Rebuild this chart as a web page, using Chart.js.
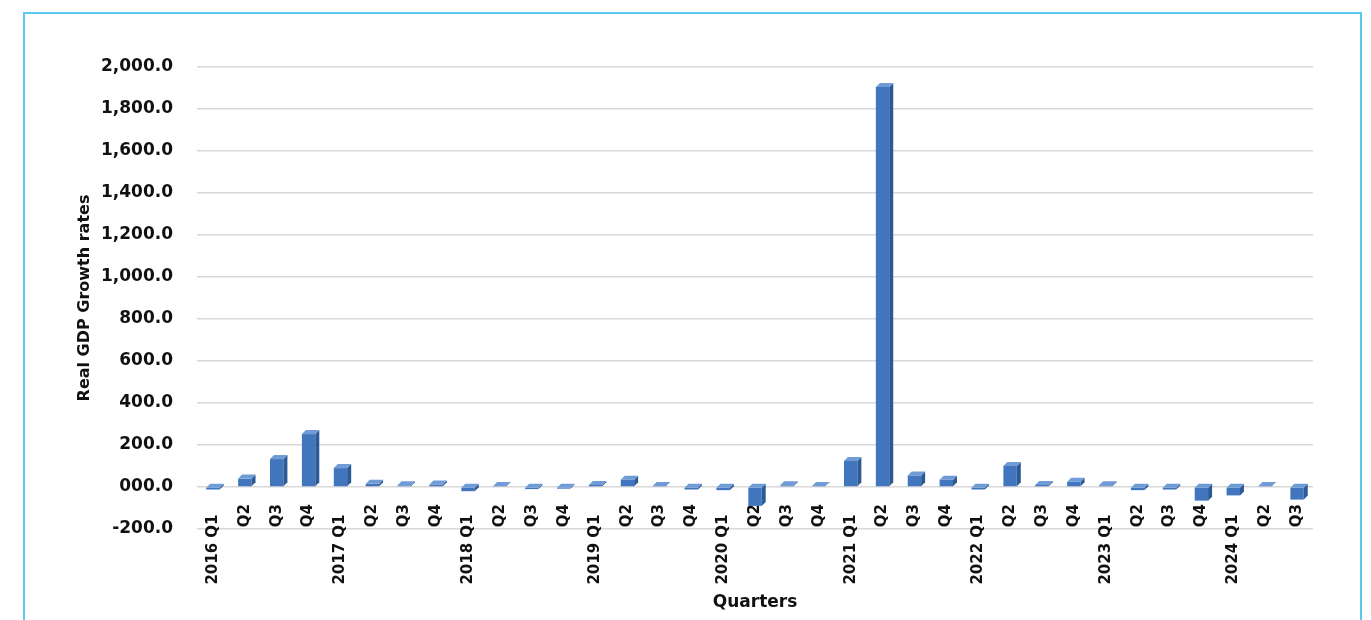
<!DOCTYPE html>
<html>
<head>
<meta charset="utf-8">
<script src="https://cdn.jsdelivr.net/npm/chart.js@4/dist/chart.umd.min.js"></script>
<style>
  html, body { margin: 0; padding: 0; background: #ffffff; }
  #wrap { position: relative; width: 1371px; height: 620px; overflow: hidden; }
  #frame { position: absolute; left: 23px; top: 12px; width: 1339px; height: 640px;
           border: 2px solid #5cc8ef; box-sizing: border-box; }
  canvas { position: absolute; left: 0; top: 0; }
</style>
</head>
<body>
<div id="wrap">
  <div id="frame"></div>
  <canvas id="chart" width="1371" height="620"></canvas>
</div>
<script>
// Quarterly real GDP growth rates, 2016 Q1 – 2024 Q3
const years = ['2016', '2017', '2018', '2019', '2020', '2021', '2022', '2023', '2024'];
const quarters = ['Q1', 'Q2', 'Q3', 'Q4'];

const growth2016 = [-12, 40, 133, 252];
const growth2017 = [90, 15, 8, 12];
const growth2018 = [-20, 5, -10, -8];
const growth2019 = [10, 35, 5, -12];
const growth2020 = [-15, -90, 8, 5];
const growth2021 = [124, 1905, 55, 35];
const growth2022 = [-12, 100, 10, 25];
const growth2023 = [8, -15, -12, -65];
const growth2024 = [-40, 5, -60];

const yTickValues = [-200, 0, 200, 400, 600, 800, 1000, 1200, 1400, 1600, 1800, 2000];
const yTickLabels = ['-200.0', '000.0', '200.0', '400.0', '600.0', '800.0',
                     '1,000.0', '1,200.0', '1,400.0', '1,600.0', '1,800.0', '2,000.0'];

const yearly = [growth2016, growth2017, growth2018, growth2019, growth2020,
                growth2021, growth2022, growth2023, growth2024];

// Category labels: first quarter of each year carries the year
const labels = [];
const values = [];
yearly.forEach((arr, yi) => {
  arr.forEach((v, qi) => {
    labels.push(qi === 0 ? years[yi] + ' ' + quarters[qi] + '  ' : quarters[qi]);
    values.push(v);
  });
});

const FONT = '"DejaVu Sans", sans-serif';

// Lets the category labels start above the axis box (they sit on the floor edge)
const unclipLabels = {
  id: 'unclipLabels',
  afterLayout(chart) {
    chart.scales.x._computeLabelArea = () => undefined;
  }
};

// Adds a shaded side and top face to each bar for a raised look
const bar3d = {
  id: 'bar3d',
  afterDatasetsDraw(chart) {
    const ctx = chart.ctx;
    const d = 4;
    chart.getDatasetMeta(0).data.forEach(bar => {
      const w = bar.width;
      const left = bar.x - w / 2, right = bar.x + w / 2;
      const top = Math.min(bar.y, bar.base), bottom = Math.max(bar.y, bar.base);
      ctx.save();
      ctx.fillStyle = '#2b5a96';
      ctx.beginPath();
      ctx.moveTo(right, top);
      ctx.lineTo(right + d, top - d);
      ctx.lineTo(right + d, bottom - d);
      ctx.lineTo(right, bottom);
      ctx.closePath();
      ctx.fill();
      ctx.fillStyle = '#6f9bd6';
      ctx.beginPath();
      ctx.moveTo(left, top);
      ctx.lineTo(left + d, top - d);
      ctx.lineTo(right + d, top - d);
      ctx.lineTo(right, top);
      ctx.closePath();
      ctx.fill();
      ctx.restore();
    });
  }
};

new Chart(document.getElementById('chart'), {
  type: 'bar',
  data: {
    labels: labels,
    datasets: [{
      data: values,
      backgroundColor: '#4176be',
      borderWidth: 0,
      categoryPercentage: 1.0,
      barPercentage: 0.42
    }]
  },
  options: {
    responsive: false,
    animation: false,
    layout: { padding: { left: 66, top: 67, right: 58, bottom: 0 } },
    plugins: { legend: { display: false }, tooltip: { enabled: false } },
    scales: {
      x: {
        grid: { display: false, drawTicks: false },
        border: { display: false },
        ticks: {
          color: '#111111',
          font: { family: FONT, size: 15, weight: 'bold' },
          maxRotation: 90,
          minRotation: 90,
          autoSkip: false,
          padding: -25
        },
        title: {
          display: true,
          text: 'Quarters',
          color: '#111111',
          font: { family: FONT, size: 17, weight: 'bold' },
          padding: { top: 0, bottom: 7 }
        },
        afterFit(scale) { scale.height = 91; }
      },
      y: {
        min: -200,
        max: 2000,
        grid: { color: '#d8d8d8', lineWidth: 1.5, drawTicks: false },
        border: { display: false },
        afterBuildTicks(scale) {
          scale.ticks = yTickValues.map(v => ({ value: v }));
        },
        ticks: {
          color: '#111111',
          font: { family: FONT, size: 17, weight: 'bold' },
          padding: 24,
          callback(value) {
            const i = yTickValues.indexOf(value);
            return i >= 0 ? yTickLabels[i] : '';
          }
        },
        title: {
          display: true,
          text: 'Real GDP Growth rates',
          color: '#111111',
          font: { family: FONT, size: 16, weight: 'bold' },
          padding: { top: 9, bottom: 0 }
        },
        afterFit(scale) { scale.width = 131; }
      }
    }
  },
  plugins: [unclipLabels, bar3d]
});
</script>
</body>
</html>
